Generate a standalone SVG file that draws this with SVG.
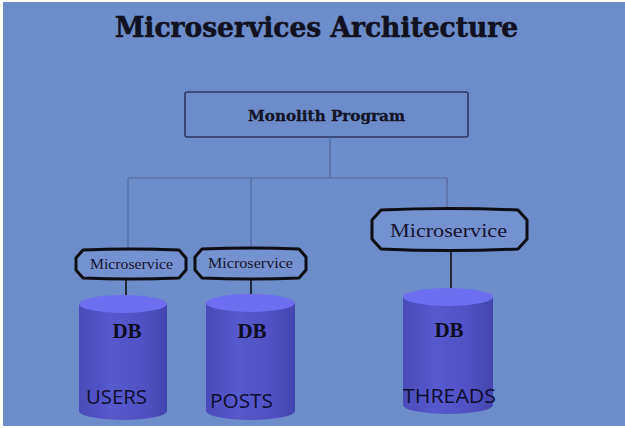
<svg xmlns="http://www.w3.org/2000/svg" width="625" height="428" viewBox="0 0 625 428">
<defs>
<linearGradient id="body" x1="0" y1="0" x2="1" y2="0">
<stop offset="0" stop-color="#4a4ab8"/>
<stop offset="0.35" stop-color="#5858cf"/>
<stop offset="0.7" stop-color="#5252c6"/>
<stop offset="1" stop-color="#4545b0"/>
</linearGradient>
<style>
.bg{fill:#6d8cca}
.title{font-family:"DejaVu Serif","Liberation Serif",serif;font-weight:bold;fill:#111122;stroke:#111122;stroke-width:0.6}
.mono{fill:none;stroke:#2b3763;stroke-width:1.6}
.monot{font-family:"DejaVu Serif","Liberation Serif",serif;font-weight:bold;font-size:14px;fill:#141428;stroke:#141428;stroke-width:0.3}
.conn{stroke:#56689a;stroke-width:1.2;fill:none}
.link{stroke:#111;stroke-width:1.6;fill:none}
.ms{fill:#7592d0;stroke:#0d0d14;stroke-width:3;stroke-linejoin:round}
.mst{font-family:"Liberation Serif",serif;fill:#151530}
.cbody{fill:url(#body)}
.ctop{fill:#6e6ef0}
.db{font-family:"Liberation Serif",serif;font-weight:bold;font-size:21px;fill:#0d0d22}
.lbl{font-family:"Open Sans","Noto Sans",sans-serif;font-size:20px;fill:#0e0e30}
</style>
</defs>
<rect width="625" height="428" fill="#ffffff"/>
<rect class="bg" x="3" y="2" width="622" height="424"/>
<g id="title">
<text class="title" x="316.5" y="37" font-size="27" text-anchor="middle" textLength="403" lengthAdjust="spacingAndGlyphs">Microservices Architecture</text>
</g>
<g id="monolith">
<rect class="mono" x="185" y="92" width="283" height="45" rx="2"/>
<text class="monot" x="326.5" y="121" text-anchor="middle" textLength="157" lengthAdjust="spacingAndGlyphs">Monolith Program</text>
</g>
<g id="connectors">
<path class="conn" d="M330,137 V178 M128,178 H447 M128,178 V249 M251,178 V248 M447,178 V208"/>
<path class="link" d="M126,279 V297 M251,279 V296 M451,250 V290"/>
</g>
<g id="ms-users">
<path class="ms" d="M83,250 Q131,248 179,250 L186,258 L186,270 L179,278 Q131,280 83,278 L76,270 L76,258 Z"/>
<text class="mst" x="131.5" y="269" font-size="14" text-anchor="middle" textLength="83" lengthAdjust="spacingAndGlyphs">Microservice</text>
</g>
<g id="ms-posts">
<path class="ms" d="M202,249 Q250.5,247 299,249 L306,257 L306,270 L299,278 Q250.5,280 202,278 L195,270 L195,257 Z"/>
<text class="mst" x="250.5" y="268" font-size="14" text-anchor="middle" textLength="85" lengthAdjust="spacingAndGlyphs">Microservice</text>
</g>
<g id="ms-threads">
<path class="ms" d="M381,210 Q449.5,207 518,210 L527,220 L527,239 L518,249 Q449.5,252 381,249 L372,239 L372,220 Z"/>
<text class="mst" x="448.5" y="237" font-size="19" text-anchor="middle" textLength="117" lengthAdjust="spacingAndGlyphs">Microservice</text>
</g>
<g id="db-users">
<path class="cbody" d="M79,304 V411 A44,9 0 0 0 167,411 V304 Z"/>
<ellipse class="ctop" cx="123" cy="304" rx="44" ry="9"/>
<text class="db" x="127" y="338" text-anchor="middle">DB</text>
<text class="lbl" x="86" y="404" textLength="61" lengthAdjust="spacingAndGlyphs">USERS</text>
</g>
<g id="db-posts">
<path class="cbody" d="M206,303 V411 A44.5,9 0 0 0 295,411 V303 Z"/>
<ellipse class="ctop" cx="250.5" cy="303" rx="44.5" ry="9"/>
<text class="db" x="252" y="338" text-anchor="middle">DB</text>
<text class="lbl" x="210" y="408" textLength="63" lengthAdjust="spacingAndGlyphs">POSTS</text>
</g>
<g id="db-threads">
<path class="cbody" d="M403,297 V405 A45,9 0 0 0 493,405 V297 Z"/>
<ellipse class="ctop" cx="448" cy="297" rx="45" ry="9"/>
<text class="db" x="449" y="337" text-anchor="middle">DB</text>
<text class="lbl" x="403" y="403" textLength="93" lengthAdjust="spacingAndGlyphs">THREADS</text>
</g>
</svg>
